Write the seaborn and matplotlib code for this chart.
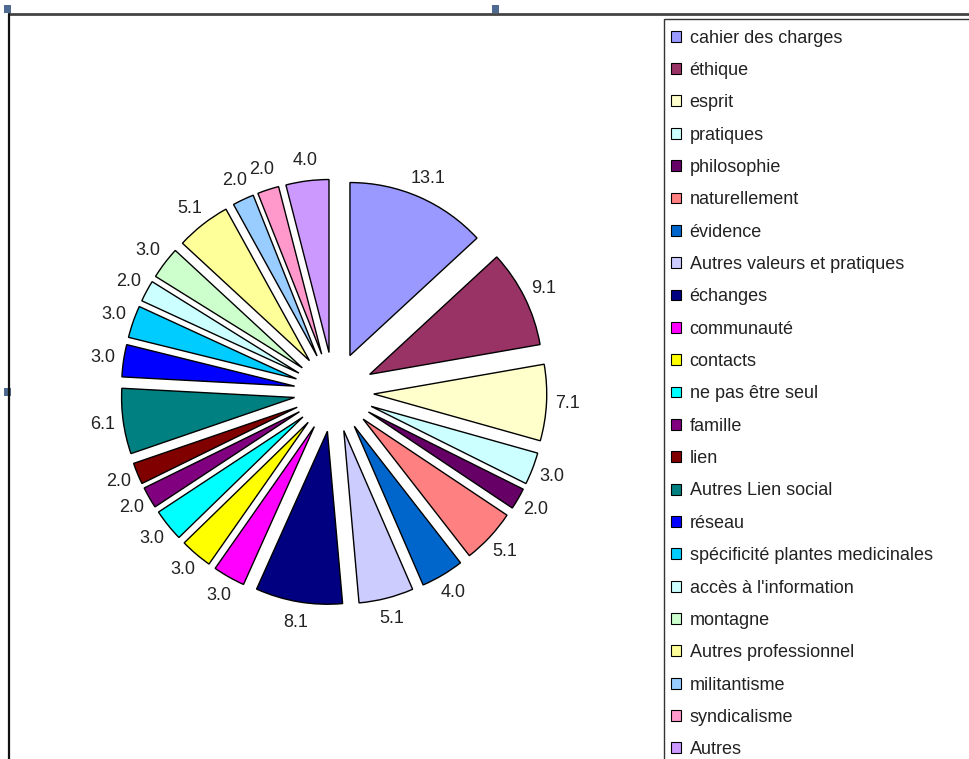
"""Exploded pie chart of answer categories (Excel style)."""

import matplotlib.pyplot as plt
import matplotlib.patches as mpatches
import seaborn as sns

categories = [
    "cahier des charges", "éthique", "esprit", "pratiques", "philosophie",
    "naturellement", "évidence", "Autres valeurs et pratiques", "échanges",
    "communauté", "contacts", "ne pas être seul", "famille", "lien",
    "Autres Lien social", "réseau", "spécificité plantes medicinales",
    "accès à l'information", "montagne", "Autres professionnel",
    "militantisme", "syndicalisme", "Autres",
]
values = [
    13.1, 9.1, 7.1, 3.0, 2.0, 5.1, 4.0, 5.1, 8.1, 3.0, 3.0, 3.0,
    2.0, 2.0, 6.1, 3.0, 3.0, 2.0, 3.0, 5.1, 2.0, 2.0, 4.0,
]
colors = [
    "#9999FF", "#993366", "#FFFFCC", "#CCFFFF", "#660066", "#FF8080",
    "#0066CC", "#CCCCFF", "#000080", "#FF00FF", "#FFFF00", "#00FFFF",
    "#800080", "#800000", "#008080", "#0000FF", "#00CCFF", "#CCFFFF",
    "#CCFFCC", "#FFFF99", "#99CCFF", "#FF99CC", "#CC99FF",
]

sns.set_theme(style="white")
plt.rcParams["font.family"] = ["Liberation Sans", "DejaVu Sans"]

W, H = 970, 759
fig = plt.figure(figsize=(W / 100, H / 100), dpi=100)

# Pie axes placed in pixel terms: centre (334, 392), radius 173 px.
cx, cy, r = 334, 392, 173
half = 1.5 * r
ax = fig.add_axes([(cx - half) / W, (H - cy - half) / H, 2 * half / W, 2 * half / H])

wedges, texts = ax.pie(
    values,
    labels=[f"{v:.1f}" for v in values],
    colors=colors,
    explode=[0.23] * len(values),
    startangle=90,
    counterclock=False,
    labeldistance=1.12,
    wedgeprops=dict(edgecolor="black", linewidth=1.0),
    textprops=dict(fontsize=13, color="#222222"),
)
for t in texts:
    t.set_horizontalalignment("center")
    t.set_verticalalignment("center")
ax.set_xlim(-1.5, 1.5)
ax.set_ylim(-1.5, 1.5)
ax.set_aspect("equal")
ax.axis("off")

# Chart frame lines (top and left) and legend box.
fig.add_artist(plt.Line2D([9 / W, 1], [1 - 14 / H] * 2, color="#444444", lw=2))
fig.add_artist(plt.Line2D([9 / W] * 2, [0, 1 - 14 / H], color="#111111", lw=1.6))
fig.add_artist(mpatches.Rectangle(
    (664 / W, -0.01), 0.4, 1 - 19 / H + 0.01, transform=fig.transFigure,
    facecolor="white", edgecolor="#333333", lw=1,
))

# Selection handles.
for hx, hy in [(4, 5), (492, 5), (4, 388)]:
    fig.add_artist(mpatches.Rectangle(
        (hx / W, 1 - (hy + 8) / H), 7 / W, 8 / H, transform=fig.transFigure,
        facecolor="#4F6A90", edgecolor="none",
    ))

handles = [
    mpatches.Rectangle((0, 0), 1, 1, facecolor=c, edgecolor="black", lw=0.8)
    for c in colors
]
leg = fig.legend(
    handles=handles,
    labels=categories,
    loc="upper left",
    bbox_to_anchor=(667 / W, 1 - 26 / H),
    frameon=False,
    fontsize=13,
    handlelength=0.55,
    handleheight=0.55,
    handletextpad=0.5,
    labelspacing=0.85,
    borderaxespad=0,
    borderpad=0.2,
)
for t in leg.get_texts():
    t.set_color("#222222")

fig.savefig("out.png", dpi=100)
